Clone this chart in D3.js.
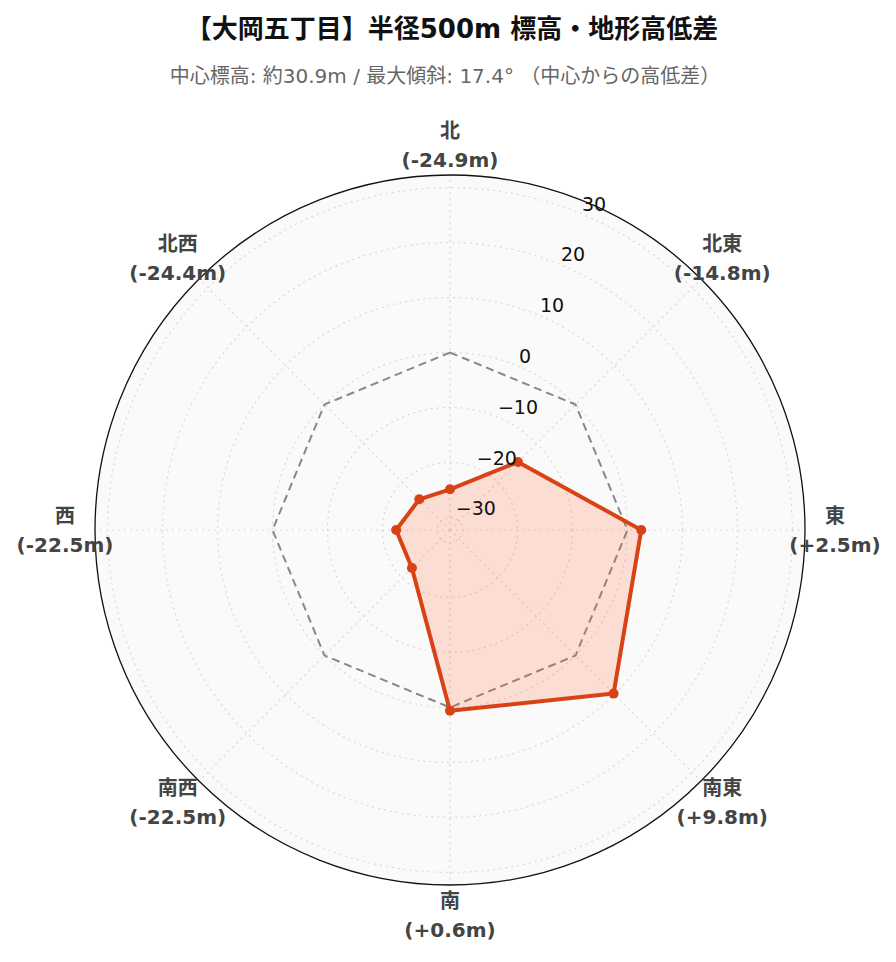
<!DOCTYPE html>
<html><head><meta charset="utf-8">
<script src="https://cdn.jsdelivr.net/npm/d3@7"></script>
<style>
html,body{margin:0;padding:0;background:#fff;}
svg{display:block;}
</style></head>
<body>
<svg id="chart" width="896" height="962"></svg>
<script>
const directions = ["北","北東","東","南東","南","南西","西","北西"];
const diffs = [-24.9,-14.8,2.5,9.8,0.6,-22.5,-22.5,-24.4];
const diffLabels = ["-24.9m","-14.8m","+2.5m","+9.8m","+0.6m","-22.5m","-22.5m","-24.4m"];
const radialTicks = [-30,-20,-10,0,10,20,30];
const radialRange = [-32.3, 32.3];
const titleText = "【大岡五丁目】半径500m 標高・地形高低差";
const subtitleText = "中心標高: 約30.9m / 最大傾斜: 17.4° （中心からの高低差）";

const svg = d3.select("#chart");
const cx = 450, cy = 530, R = 355;
const font = "'DejaVu Sans','Noto Sans CJK JP',sans-serif";

const r = d3.scaleLinear().domain(radialRange).range([0, R]);
const ang = d3.scalePoint().domain(directions).range([0, 2*Math.PI*(7/8)]);
const px = (a, rad) => cx + rad*Math.sin(a);
const py = (a, rad) => cy - rad*Math.cos(a);

// title
svg.append("text").attr("x",452).attr("y",38).attr("text-anchor","middle")
  .attr("font-family",font).attr("font-weight","bold").attr("font-size",26)
  .attr("fill","#111").text(titleText);
svg.append("text").attr("x",445).attr("y",83).attr("text-anchor","middle")
  .attr("font-family",font).attr("font-size",20)
  .attr("fill","#666").text(subtitleText);

const g = svg.append("g");
// background
g.append("circle").attr("cx",cx).attr("cy",cy).attr("r",R).attr("fill","#fafafa");

// radial grid circles
radialTicks.forEach(t => {
  g.append("circle").attr("cx",cx).attr("cy",cy).attr("r",r(t))
   .attr("fill","none").attr("stroke","#d9d9d9").attr("stroke-width",1.2)
   .attr("stroke-dasharray","2,4");
});
// angular spokes
directions.forEach(d => {
  const a = ang(d);
  g.append("line").attr("x1",cx).attr("y1",cy).attr("x2",px(a,R)).attr("y2",py(a,R))
   .attr("stroke","#d9d9d9").attr("stroke-width",1.2).attr("stroke-dasharray","2,4");
});

// zero reference polygon
const zeroLine = d3.lineRadial().angle(d => ang(d)).radius(() => r(0)).curve(d3.curveLinearClosed);
g.append("path").attr("transform",`translate(${cx},${cy})`).attr("d", zeroLine(directions))
 .attr("fill","none").attr("stroke","#888").attr("stroke-width",2).attr("stroke-dasharray","8,5");

// data polygon
const pts = directions.map((d,i) => ({d, v: diffs[i]}));
const dataLine = d3.lineRadial().angle(p => ang(p.d)).radius(p => r(p.v)).curve(d3.curveLinearClosed);
g.append("path").attr("transform",`translate(${cx},${cy})`).attr("d", dataLine(pts))
 .attr("fill","rgba(255,87,34,0.18)").attr("stroke","#d84315").attr("stroke-width",4)
 .attr("stroke-linejoin","round");
g.selectAll(".pt").data(pts).enter().append("circle")
 .attr("cx",p => px(ang(p.d), r(p.v))).attr("cy",p => py(ang(p.d), r(p.v)))
 .attr("r",5).attr("fill","#d84315");

// outer circle
g.append("circle").attr("cx",cx).attr("cy",cy).attr("r",R).attr("fill","none")
 .attr("stroke","#111").attr("stroke-width",1.3);

// radial tick labels
const ta = Math.PI/8;
radialTicks.forEach(t => {
  g.append("text").attr("x",px(ta,r(t))+1).attr("y",py(ta,r(t))-3)
   .attr("font-family",font).attr("font-size",19).attr("fill","#111")
   .text(t < 0 ? "\u2212" + Math.abs(t) : String(t));
});

// angular labels
directions.forEach((d,i) => {
  const a = ang(d);
  const x = px(a, 385), y = py(a, 385);
  const t = g.append("text").attr("text-anchor","middle").attr("font-family",font)
    .attr("font-weight","bold").attr("font-size",20).attr("fill","#444");
  t.append("tspan").attr("x",x).attr("y",y-14.5+7.5).text(d);
  t.append("tspan").attr("x",x).attr("y",y+14.5+7.5).text("(" + diffLabels[i] + ")");
});
</script>
</body></html>
